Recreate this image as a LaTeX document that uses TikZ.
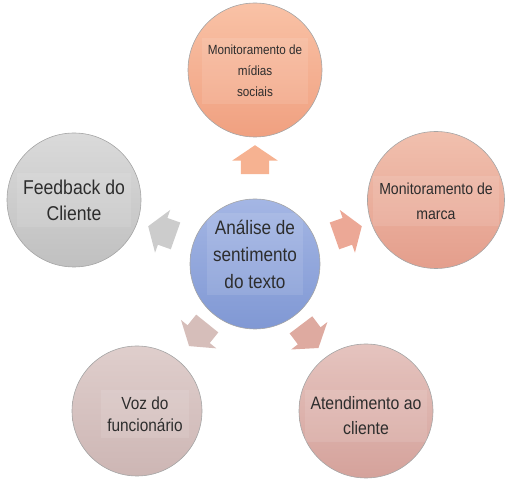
\documentclass[tikz,border=0pt]{standalone}
\usepackage{fontspec}
\setmainfont[FakeStretch=0.88]{Liberation Sans}
\usepackage{tikz}
\usetikzlibrary{calc}
\usetikzlibrary{shapes.arrows}
\usepackage{xcolor}
\definecolor{ColTxt}{RGB}{45,45,45}
\definecolor{ColEdge}{RGB}{165,165,165}
\definecolor{ColCenA}{RGB}{164,182,228}
\definecolor{ColCenB}{RGB}{128,152,212}
\definecolor{ColTopA}{RGB}{249,194,166}
\definecolor{ColTopB}{RGB}{240,160,128}
\definecolor{ColMarA}{RGB}{241,192,174}
\definecolor{ColMarB}{RGB}{228,158,140}
\definecolor{ColAteA}{RGB}{229,196,191}
\definecolor{ColAteB}{RGB}{213,162,155}
\definecolor{ColVozA}{RGB}{223,206,204}
\definecolor{ColVozB}{RGB}{205,182,180}
\definecolor{ColFeeA}{RGB}{218,218,218}
\definecolor{ColFeeB}{RGB}{192,192,192}
\definecolor{ArrTop}{RGB}{246,178,145}
\definecolor{ArrMar}{RGB}{236,168,150}
\definecolor{ArrAte}{RGB}{222,170,160}
\definecolor{ArrVoz}{RGB}{214,190,186}
\definecolor{ArrFee}{RGB}{204,204,204}
\tikzstyle{NodeBubble}=[circle,draw=ColEdge,line width=0.6pt,minimum size=134pt,
inner sep=0pt]
\tikzstyle{NodeLabel}=[align=center,text=ColTxt,fill=white,fill opacity=0.10,
text opacity=1,inner xsep=6pt,inner ysep=7pt]
\tikzstyle{ArrowBlock}=[single arrow,minimum height=29pt,inner xsep=0pt,inner ysep=14pt,
single arrow head extend=8.5pt,single arrow tip angle=112]

\begin{document}
\begin{tikzpicture}[x=1pt,y=1pt]
        \useasboundingbox (0,0) rectangle (507,490);
        % circles
        \node[NodeBubble,minimum size=130pt,top color=ColCenA,bottom color=ColCenB](c)at(255,226){};
        \node[NodeBubble,top color=ColTopA,bottom color=ColTopB](t)at(255,420){};
        \node[NodeBubble,minimum size=137pt,top color=ColMarA,bottom color=ColMarB](m)at(436,290){};
        \node[NodeBubble,top color=ColAteA,bottom color=ColAteB](a)at(366,79){};
        \node[NodeBubble,minimum size=130pt,top color=ColVozA,bottom color=ColVozB](v)at(137,79){};
        \node[NodeBubble,top color=ColFeeA,bottom color=ColFeeB](f)at(74,290){};
        % texts
        \node[NodeLabel,font=\fontsize{19.5}{27}\selectfont](ct)at([yshift=10]c){Análise de\\sentimento\\do texto};
        \node[NodeLabel,font=\fontsize{13.3}{21}\selectfont](tt)at([yshift=-1]t){Monitoramento de\\mídias\\sociais};
        \node[NodeLabel,font=\fontsize{16}{25}\selectfont](mt)at([yshift=-1]m){Monitoramento de\\marca};
        \node[NodeLabel,font=\fontsize{18}{25}\selectfont](at)at([yshift=-5]a){Atendimento ao\\cliente};
        \node[NodeLabel,font=\fontsize{17.5}{22}\selectfont](vt)at([xshift=8,yshift=-3]v){Voz do\\funcionário};
        \node[NodeLabel,font=\fontsize{20}{26}\selectfont](ft)at(f){Feedback do\\Cliente};
        % block arrows
        \node[ArrowBlock,fill=ArrTop,rotate=90](ut)at($(c)!99.5pt!(t)$){};
        \node[ArrowBlock,fill=ArrMar,rotate=19.5](um)at($(c)!94pt!(m)$){};
        \node[ArrowBlock,fill=ArrAte,rotate=-52.9](ua)at($(c)!86pt!(a)$){};
        \node[ArrowBlock,fill=ArrVoz,rotate=231.2](uv)at($(c)!86pt!(v)$){};
        \node[ArrowBlock,fill=ArrFee,rotate=160.5](uf)at($(c)!94pt!(f)$){};
    \end{tikzpicture}
\end{document}
